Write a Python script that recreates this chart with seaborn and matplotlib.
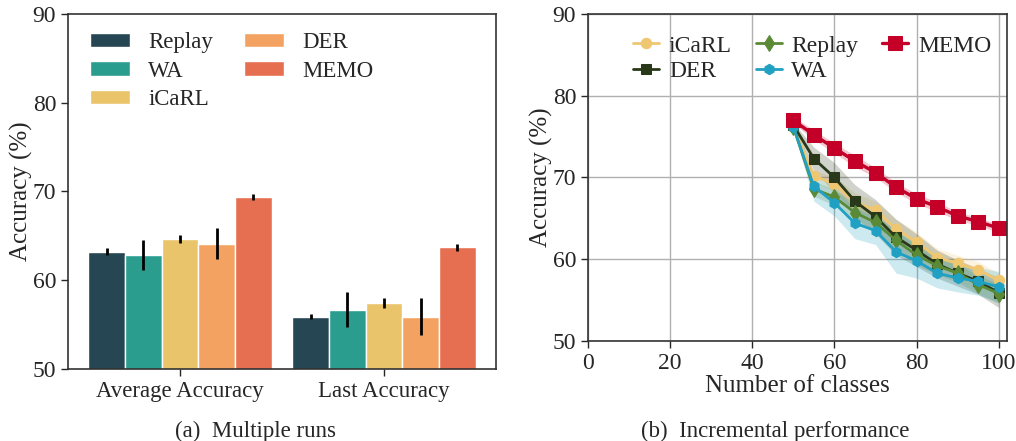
import numpy as np
import pandas as pd
import seaborn as sns
import matplotlib
matplotlib.use("Agg")
import matplotlib.pyplot as plt

# ---------------- data ----------------
methods = ["Replay", "WA", "iCaRL", "DER", "MEMO"]
bar_colors = ["#264653", "#2a9d8f", "#e9c46a", "#f4a261", "#e76f51"]
groups = ["Average Accuracy", "Last Accuracy"]
avg_acc = [63.2, 62.8, 64.6, 64.1, 69.4]
avg_err = [0.4, 1.7, 0.45, 1.75, 0.35]
last_acc = [55.9, 56.7, 57.4, 55.9, 63.7]
last_err = [0.3, 2.0, 0.55, 2.05, 0.4]

classes = [50, 55, 60, 65, 70, 75, 80, 85, 90, 95, 100]
icarl = [76.2, 70.2, 69.2, 67.0, 66.0, 63.7, 62.1, 60.2, 59.5, 58.7, 57.4]
der = [76.4, 72.3, 70.0, 67.1, 65.2, 62.7, 61.1, 59.4, 58.3, 57.3, 55.9]
replay = [76.2, 68.6, 67.6, 65.7, 64.5, 62.3, 60.5, 59.2, 58.3, 56.9, 55.8]
wa = [76.2, 68.9, 66.9, 64.4, 63.5, 60.9, 59.8, 58.3, 57.7, 57.3, 56.6]
memo = [77.0, 75.2, 73.6, 72.0, 70.6, 68.8, 67.4, 66.4, 65.3, 64.6, 63.8]
icarl_sd = [0.3, 0.7, 0.9, 1.1, 1.1, 1.2, 1.2, 1.1, 1.0, 1.0, 0.9]
der_sd = [0.3, 1.4, 1.8, 2.0, 2.1, 2.2, 2.0, 1.7, 1.6, 1.6, 1.8]
replay_sd = [0.3, 0.9, 1.0, 1.1, 1.1, 1.2, 1.2, 1.1, 1.1, 1.1, 1.2]
wa_sd = [0.3, 1.8, 1.6, 1.9, 1.7, 2.6, 2.1, 1.8, 1.7, 1.7, 1.9]
memo_sd = [0.4, 0.6, 0.6, 0.7, 0.6, 0.6, 0.6, 0.6, 0.5, 0.5, 0.5]

line_series = [
    ("iCaRL", icarl, icarl_sd, "#f0c771", "o", 7.5),
    ("DER", der, der_sd, "#283818", "s", 7.5),
    ("Replay", replay, replay_sd, "#5a8a36", "d", 8),
    ("WA", wa, wa_sd, "#20a0c2", "h", 7.5),
    ("MEMO", memo, memo_sd, "#c40028", "s", 9.5),
]

# ---------------- style ----------------
sns.set_theme(style="ticks")
plt.rcParams["font.family"] = ["Liberation Serif", "DejaVu Serif"]

fig = plt.figure(figsize=(10.16, 4.41), dpi=100)
ax1 = fig.add_axes([0.0669, 0.1633, 0.4213, 0.805])
ax2 = fig.add_axes([0.5787, 0.2268, 0.4124, 0.7415])

# ---------------- left: bars ----------------
df = pd.DataFrame({
    "group": [g for g in groups for _ in methods],
    "method": methods * 2,
    "acc": avg_acc + last_acc,
    "err": avg_err + last_err,
})
sns.barplot(data=df, x="group", y="acc", hue="method", hue_order=methods,
            palette=bar_colors, width=0.9, errorbar=None, ax=ax1,
            edgecolor="white", linewidth=1.0, saturation=1)
for cont, m in zip(ax1.containers, methods):
    sub = df[df["method"] == m]
    xs = [p.get_x() + p.get_width() / 2 for p in cont.patches]
    ax1.errorbar(xs, sub["acc"].values, yerr=sub["err"].values, fmt="none",
                 ecolor="black", elinewidth=2, capsize=0, zorder=5)
ax1.set_ylim(50, 90)
ax1.set_xlim(-0.55, 1.55)
ax1.set_yticks([50, 60, 70, 80, 90])
ax1.set_xlabel("")
ax1.set_ylabel("Accuracy (%)", fontsize=18, labelpad=0)
ax1.tick_params(axis="y", labelsize=17, length=5, width=1, direction="out")
ax1.tick_params(axis="x", labelsize=16.5, length=5, width=1, direction="out")
for s in ax1.spines.values():
    s.set_visible(True)
    s.set_color("#333333")
    s.set_linewidth(1.2)
ax1.legend(ncol=2, loc="upper left", frameon=False, fontsize=16.5,
           handlelength=1.75, handleheight=0.57, columnspacing=1.35,
           labelspacing=0.32, handletextpad=0.8, borderpad=0.3,
           bbox_to_anchor=(0.008, 1.0))

# ---------------- right: lines ----------------
ax2.grid(True, color="#b0b0b0", linewidth=1.0)
ax2.set_axisbelow(True)
for name, vals, sd, col, mk, ms in line_series:
    v = np.array(vals)
    s = np.array(sd)
    ax2.fill_between(classes, v - s, v + s, color=col, alpha=0.22, linewidth=0)
    ldf = pd.DataFrame({"x": classes, "y": vals})
    sns.lineplot(data=ldf, x="x", y="y", ax=ax2, color=col, marker=mk,
                 markersize=ms, markeredgecolor=col,
                 linewidth=2.4 if name == "MEMO" else 2, label=name)
ax2.set_xlim(0, 102)
ax2.set_ylim(50, 90)
ax2.set_xticks([0, 20, 40, 60, 80, 100])
ax2.set_yticks([50, 60, 70, 80, 90])
ax2.set_xlabel("Number of classes", fontsize=18, labelpad=1)
ax2.set_ylabel("Accuracy (%)", fontsize=18, labelpad=0)
ax2.tick_params(axis="both", labelsize=17, length=5, width=1, direction="out")
for s in ax2.spines.values():
    s.set_color("#333333")
    s.set_linewidth(1.2)
ax2.legend(ncol=3, loc="upper center", frameon=False, fontsize=17,
           handlelength=1.1, handletextpad=0.42, columnspacing=1.0,
           labelspacing=0.15, bbox_to_anchor=(0.535, 1.0))

# ---------------- captions ----------------
fig.text(0.251, 0.009, "(a)  Multiple runs", ha="center", va="baseline", fontsize=16.5)
fig.text(0.763, 0.009, "(b)  Incremental performance", ha="center", va="baseline", fontsize=16.5)

fig.savefig("out.png", dpi=100)
